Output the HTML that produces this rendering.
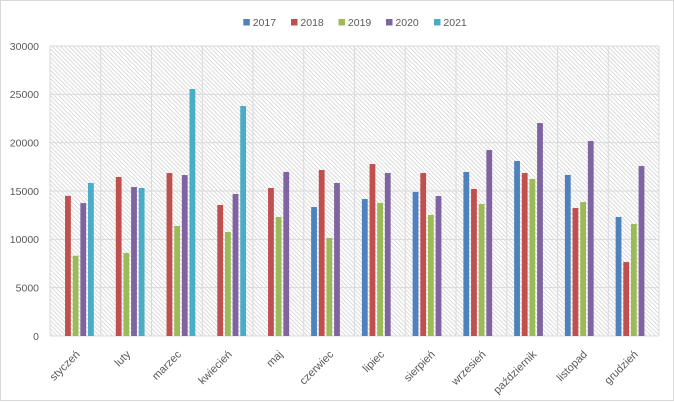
<!DOCTYPE html>
<html><head><meta charset="utf-8"><style>
html,body{margin:0;padding:0;background:#fff;}
svg{display:block;}
text{font-family:"Liberation Sans",Arial,sans-serif;fill:#595959;}
</style></head><body>
<svg width="674" height="402" viewBox="0 0 674 402" xmlns="http://www.w3.org/2000/svg">
<defs>
<pattern id="h" width="3" height="3" patternUnits="userSpaceOnUse" patternTransform="rotate(-45)">
<rect width="3" height="3" fill="#fff"/>
<line x1="1" y1="0" x2="1" y2="3" stroke="#dadada" stroke-width="1"/>
</pattern>
</defs>
<rect x="0" y="0" width="674" height="402" fill="#fff"/>
<rect x="0.5" y="0.5" width="673" height="400" fill="none" stroke="#d9d9d9" stroke-width="1"/>
<!-- plot area -->
<rect x="50" y="46" width="609" height="290" fill="url(#h)"/>
<g stroke="#d9d9d9" stroke-width="1">
<line x1="50" y1="46" x2="659" y2="46"/>
<line x1="50" y1="94.33" x2="659" y2="94.33"/>
<line x1="50" y1="142.67" x2="659" y2="142.67"/>
<line x1="50" y1="191" x2="659" y2="191"/>
<line x1="50" y1="239.33" x2="659" y2="239.33"/>
<line x1="50" y1="287.67" x2="659" y2="287.67"/>
<line x1="50" y1="336" x2="659" y2="336"/>
<line x1="50" y1="46" x2="50" y2="336"/>
<line x1="100.75" y1="46" x2="100.75" y2="336"/>
<line x1="151.5" y1="46" x2="151.5" y2="336"/>
<line x1="202.25" y1="46" x2="202.25" y2="336"/>
<line x1="253" y1="46" x2="253" y2="336"/>
<line x1="303.75" y1="46" x2="303.75" y2="336"/>
<line x1="354.5" y1="46" x2="354.5" y2="336"/>
<line x1="405.25" y1="46" x2="405.25" y2="336"/>
<line x1="456" y1="46" x2="456" y2="336"/>
<line x1="506.75" y1="46" x2="506.75" y2="336"/>
<line x1="557.5" y1="46" x2="557.5" y2="336"/>
<line x1="608.25" y1="46" x2="608.25" y2="336"/>
<line x1="659" y1="46" x2="659" y2="336"/>
</g>
<!-- bars -->
<g transform="translate(0,336) scale(1,-0.0096667)">
<g transform="translate(50,0)">
<rect x="15.05" width="5.8" height="14500" fill="#c0504d"/>
<rect x="22.7" width="5.8" height="8300" fill="#9bbb59"/>
<rect x="30.35" width="5.8" height="13750" fill="#8064a2"/>
<rect x="38" width="5.8" height="15830" fill="#4bacc6"/>
</g>
<g transform="translate(100.75,0)">
<rect x="15.05" width="5.8" height="16450" fill="#c0504d"/>
<rect x="22.7" width="5.8" height="8590" fill="#9bbb59"/>
<rect x="30.35" width="5.8" height="15410" fill="#8064a2"/>
<rect x="38" width="5.8" height="15310" fill="#4bacc6"/>
</g>
<g transform="translate(151.5,0)">
<rect x="15.05" width="5.8" height="16860" fill="#c0504d"/>
<rect x="22.7" width="5.8" height="11380" fill="#9bbb59"/>
<rect x="30.35" width="5.8" height="16650" fill="#8064a2"/>
<rect x="38" width="5.8" height="25550" fill="#4bacc6"/>
</g>
<g transform="translate(202.25,0)">
<rect x="15.05" width="5.8" height="13550" fill="#c0504d"/>
<rect x="22.7" width="5.8" height="10760" fill="#9bbb59"/>
<rect x="30.35" width="5.8" height="14690" fill="#8064a2"/>
<rect x="38" width="5.8" height="23790" fill="#4bacc6"/>
</g>
<g transform="translate(253,0)">
<rect x="15.05" width="5.8" height="15310" fill="#c0504d"/>
<rect x="22.7" width="5.8" height="12310" fill="#9bbb59"/>
<rect x="30.35" width="5.8" height="16970" fill="#8064a2"/>
</g>
<g transform="translate(303.75,0)">
<rect x="7.4" width="5.8" height="13340" fill="#4f81bd"/>
<rect x="15.05" width="5.8" height="17170" fill="#c0504d"/>
<rect x="22.7" width="5.8" height="10140" fill="#9bbb59"/>
<rect x="30.35" width="5.8" height="15830" fill="#8064a2"/>
</g>
<g transform="translate(354.5,0)">
<rect x="7.4" width="5.8" height="14170" fill="#4f81bd"/>
<rect x="15.05" width="5.8" height="17790" fill="#c0504d"/>
<rect x="22.7" width="5.8" height="13760" fill="#9bbb59"/>
<rect x="30.35" width="5.8" height="16860" fill="#8064a2"/>
</g>
<g transform="translate(405.25,0)">
<rect x="7.4" width="5.8" height="14900" fill="#4f81bd"/>
<rect x="15.05" width="5.8" height="16860" fill="#c0504d"/>
<rect x="22.7" width="5.8" height="12520" fill="#9bbb59"/>
<rect x="30.35" width="5.8" height="14480" fill="#8064a2"/>
</g>
<g transform="translate(456,0)">
<rect x="7.4" width="5.8" height="16970" fill="#4f81bd"/>
<rect x="15.05" width="5.8" height="15210" fill="#c0504d"/>
<rect x="22.7" width="5.8" height="13660" fill="#9bbb59"/>
<rect x="30.35" width="5.8" height="19240" fill="#8064a2"/>
</g>
<g transform="translate(506.75,0)">
<rect x="7.4" width="5.8" height="18100" fill="#4f81bd"/>
<rect x="15.05" width="5.8" height="16860" fill="#c0504d"/>
<rect x="22.7" width="5.8" height="16240" fill="#9bbb59"/>
<rect x="30.35" width="5.8" height="22030" fill="#8064a2"/>
</g>
<g transform="translate(557.5,0)">
<rect x="7.4" width="5.8" height="16660" fill="#4f81bd"/>
<rect x="15.05" width="5.8" height="13240" fill="#c0504d"/>
<rect x="22.7" width="5.8" height="13860" fill="#9bbb59"/>
<rect x="30.35" width="5.8" height="20170" fill="#8064a2"/>
</g>
<g transform="translate(608.25,0)">
<rect x="7.4" width="5.8" height="12310" fill="#4f81bd"/>
<rect x="15.05" width="5.8" height="7650" fill="#c0504d"/>
<rect x="22.7" width="5.8" height="11590" fill="#9bbb59"/>
<rect x="30.35" width="5.8" height="17590" fill="#8064a2"/>
</g>
</g>
<!-- y axis labels -->
<g font-size="10.5" text-anchor="end">
<text x="39" y="49.8">30000</text>
<text x="39" y="98.1">25000</text>
<text x="39" y="146.5">20000</text>
<text x="39" y="194.8">15000</text>
<text x="39" y="243.1">10000</text>
<text x="39" y="291.5">5000</text>
<text x="39" y="339.8">0</text>
</g>
<!-- x axis labels -->
<g font-size="11" text-anchor="end">
<text x="80.4" y="355" transform="rotate(-45 80.4 355)">styczeń</text>
<text x="131.1" y="355" transform="rotate(-45 131.1 355)">luty</text>
<text x="181.9" y="355" transform="rotate(-45 181.9 355)">marzec</text>
<text x="232.6" y="355" transform="rotate(-45 232.6 355)">kwiecień</text>
<text x="283.4" y="355" transform="rotate(-45 283.4 355)">maj</text>
<text x="334.1" y="355" transform="rotate(-45 334.1 355)">czerwiec</text>
<text x="384.9" y="355" transform="rotate(-45 384.9 355)">lipiec</text>
<text x="435.6" y="355" transform="rotate(-45 435.6 355)">sierpień</text>
<text x="486.4" y="355" transform="rotate(-45 486.4 355)">wrzesień</text>
<text x="537.1" y="355" transform="rotate(-45 537.1 355)">październik</text>
<text x="587.9" y="355" transform="rotate(-45 587.9 355)">listopad</text>
<text x="638.6" y="355" transform="rotate(-45 638.6 355)">grudzień</text>
</g>
<!-- legend -->
<g font-size="10.5">
<rect x="243.3" y="19" width="6.5" height="6.5" fill="#4f81bd"/>
<text x="252.7" y="26">2017</text>
<rect x="291" y="19" width="6.5" height="6.5" fill="#c0504d"/>
<text x="300.4" y="26">2018</text>
<rect x="338.5" y="19" width="6.5" height="6.5" fill="#9bbb59"/>
<text x="347.9" y="26">2019</text>
<rect x="386" y="19" width="6.5" height="6.5" fill="#8064a2"/>
<text x="395.4" y="26">2020</text>
<rect x="434" y="19" width="6.5" height="6.5" fill="#4bacc6"/>
<text x="443.4" y="26">2021</text>
</g>
</svg>
</body></html>
